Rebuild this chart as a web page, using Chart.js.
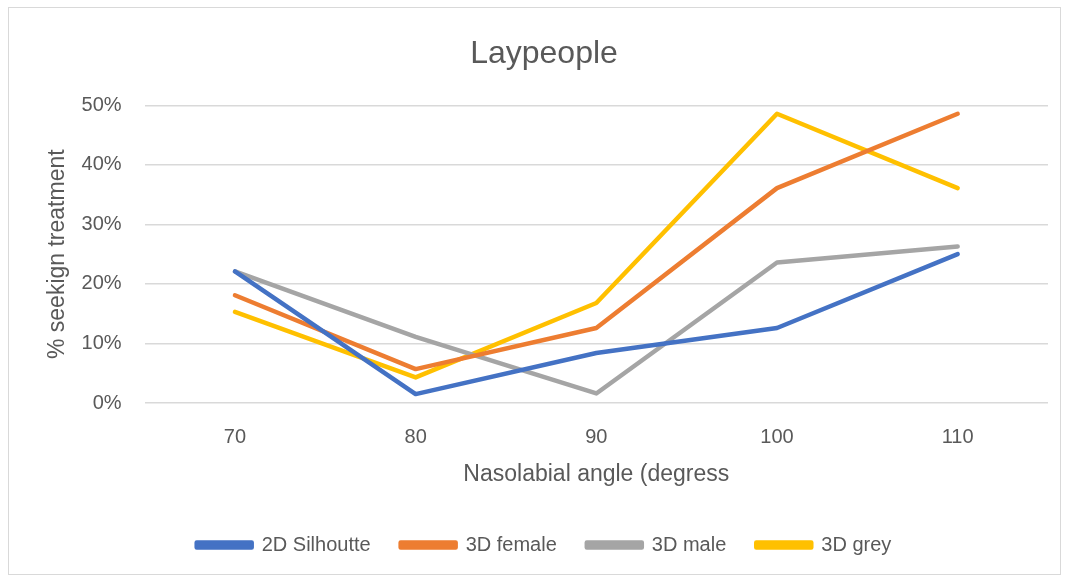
<!DOCTYPE html>
<html>
<head>
<meta charset="utf-8">
<script src="https://cdn.jsdelivr.net/npm/chart.js@4"></script>
<style>
  html, body { margin: 0; padding: 0; background: #fff; }
  #box { position: absolute; left: 8px; top: 7px; width: 1053px; height: 568px; border: 1px solid #d9d9d9; box-sizing: border-box; }
  #wrap { position: absolute; left: 0; top: 0; width: 1067px; height: 579px; }
</style>
</head>
<body>
<div id="box"></div>
<div id="wrap"><canvas id="LineChart"></canvas></div>
<script>
// values, in percent
const angles = ['70', '80', '90', '100', '110'];
const silhoutte2D = [22.1, 1.5, 8.4, 12.6, 25.0];
const female3D = [18.1, 5.7, 12.6, 36.1, 48.6];
const male3D = [22.1, 11.1, 1.6, 23.6, 26.3];
const grey3D = [15.3, 4.3, 16.8, 48.6, 36.1];
const seriesNames = ['2D Silhoutte', '3D female', '3D male', '3D grey'];
const seriesColors = ['#4472C4', '#ED7D31', '#A5A5A5', '#FFC000'];

const txt = '#595959';
const fontName = "'Liberation Sans', Arial, sans-serif";

const mkSet = (i, vals) => ({
  label: seriesNames[i],
  data: vals,
  borderColor: seriesColors[i],
  backgroundColor: seriesColors[i],
  borderWidth: 4.5,
  pointRadius: 0,
  tension: 0,
  borderJoinStyle: 'round',
  borderCapStyle: 'round'
});

const ctx = document.getElementById('LineChart').getContext('2d');
let LineChart = new Chart(ctx, {
  type: 'line',
  data: {
    labels: angles,
    datasets: [mkSet(0, silhoutte2D), mkSet(1, female3D), mkSet(2, male3D), mkSet(3, grey3D)]
  },
  options: {
    responsive: true,
    maintainAspectRatio: false,
    animation: false,
    layout: { padding: { left: 40, right: 19, top: 18, bottom: 14 } },
    plugins: {
      title: {
        display: true,
        text: 'Laypeople',
        color: txt,
        font: { family: fontName, size: 32, weight: 'normal' },
        padding: { top: 17, bottom: 32 }
      },
      legend: {
        position: 'bottom',
        labels: {
          color: txt,
          font: { family: fontName, size: 20 },
          boxWidth: 55,
          boxHeight: 5,
          padding: 30
        }
      },
      tooltip: { enabled: false }
    },
    scales: {
      x: {
        offset: true,
        grid: { display: false },
        border: { display: false },
        ticks: { color: txt, font: { family: fontName, size: 20 }, padding: 14 },
        title: {
          display: true,
          text: 'Nasolabial angle (degress',
          color: txt,
          font: { family: fontName, size: 23, lineHeight: 1 },
          padding: { top: 0, bottom: 19 }
        }
      },
      y: {
        min: 0,
        max: 50,
        grid: { color: '#d9d9d9', lineWidth: 1.5, drawTicks: false },
        border: { display: false },
        ticks: {
          stepSize: 10,
          color: txt,
          font: { family: fontName, size: 20 },
          padding: 23,
          callback: v => v + '%'
        },
        title: {
          display: true,
          text: '% seekign treatment',
          color: txt,
          font: { family: fontName, size: 23 },
          padding: { bottom: -13 }
        }
      }
    }
  }
});
</script>
</body>
</html>
